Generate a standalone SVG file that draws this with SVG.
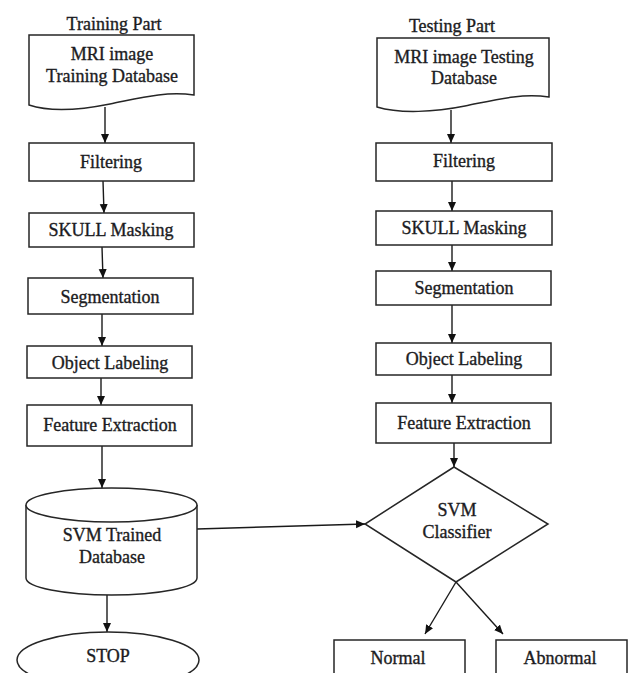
<svg xmlns="http://www.w3.org/2000/svg" width="628" height="673" viewBox="0 0 628 673">
<style>
.s{fill:#fff;stroke:#262626;stroke-width:1.5}
.t{font-family:"Liberation Serif","Times New Roman",serif;font-size:18px;fill:#1c1c22;stroke:#1c1c22;stroke-width:0.35;text-anchor:middle}
.c{fill:none;stroke:#1a1a1a;stroke-width:1.4}
</style>
<defs>
<marker id="a" markerUnits="userSpaceOnUse" markerWidth="10" markerHeight="10" refX="9" refY="4" orient="auto">
<path d="M0,0 L9,4 L0,8 Z" fill="#111"/>
</marker>
</defs>
<rect width="628" height="673" fill="#fff"/>
<text class="t" x="114" y="30">Training Part</text>
<text class="t" x="452" y="32">Testing Part</text>

<g id="connectors">
<path class="c" d="M105,107 V143" marker-end="url(#a)"/>
<path class="c" d="M103,181 L104,213" marker-end="url(#a)"/>
<path class="c" d="M102,247 L103,278" marker-end="url(#a)"/>
<path class="c" d="M102,314 V346" marker-end="url(#a)"/>
<path class="c" d="M101,378 V405" marker-end="url(#a)"/>
<path class="c" d="M102,446 V488" marker-end="url(#a)"/>
<path class="c" d="M107,595 V632" marker-end="url(#a)"/>
<path class="c" d="M197,529 L365,524" marker-end="url(#a)"/>
<path class="c" d="M451,110 V143" marker-end="url(#a)"/>
<path class="c" d="M452,181 V211" marker-end="url(#a)"/>
<path class="c" d="M452,245 V271" marker-end="url(#a)"/>
<path class="c" d="M452,305 V343" marker-end="url(#a)"/>
<path class="c" d="M452,375 V403" marker-end="url(#a)"/>
<path class="c" d="M454,443 V467" marker-end="url(#a)"/>
<path class="c" d="M456,582 L425,634" marker-end="url(#a)"/>
<path class="c" d="M456,582 L503,634" marker-end="url(#a)"/>
</g>

<g id="train-db">
<path class="s" d="M29,35 H194 V95 C165,91 140,98 110,104 C80,110 50,112 29,105 Z"/>
<text class="t" x="112" y="60">MRI image</text>
<text class="t" x="112" y="82">Training Database</text>
</g>
<g id="train-filter">
<rect class="s" x="29" y="143" width="165" height="38"/>
<text class="t" x="111" y="168">Filtering</text>
</g>
<g id="train-skull">
<rect class="s" x="29" y="213" width="165" height="34"/>
<text class="t" x="111" y="236">SKULL Masking</text>
</g>
<g id="train-seg">
<rect class="s" x="28" y="278" width="165" height="36"/>
<text class="t" x="110" y="303">Segmentation</text>
</g>
<g id="train-label">
<rect class="s" x="27" y="346" width="165" height="32"/>
<text class="t" x="110" y="369">Object Labeling</text>
</g>
<g id="train-feat">
<rect class="s" x="27" y="405" width="165" height="41"/>
<text class="t" x="110" y="431">Feature Extraction</text>
</g>
<g id="svm-db">
<path class="s" d="M26,505 V578 A85.5,17 0 0 0 197,578 V505"/>
<ellipse class="s" cx="111.5" cy="505" rx="85.5" ry="17"/>
<text class="t" x="112" y="541">SVM Trained</text>
<text class="t" x="112" y="563">Database</text>
</g>
<g id="stop">
<ellipse class="s" cx="108" cy="660" rx="91" ry="28"/>
<text class="t" x="108" y="662">STOP</text>
</g>

<g id="test-db">
<path class="s" d="M377,38 H549 V97 C520,93 495,100 465,106 C435,112 400,114 377,107 Z"/>
<text class="t" x="464" y="63">MRI image Testing</text>
<text class="t" x="464" y="84">Database</text>
</g>
<g id="test-filter">
<rect class="s" x="376" y="143" width="176" height="38"/>
<text class="t" x="464" y="167">Filtering</text>
</g>
<g id="test-skull">
<rect class="s" x="376" y="211" width="176" height="34"/>
<text class="t" x="464" y="234">SKULL Masking</text>
</g>
<g id="test-seg">
<rect class="s" x="376" y="271" width="175" height="34"/>
<text class="t" x="464" y="294">Segmentation</text>
</g>
<g id="test-label">
<rect class="s" x="376" y="343" width="175" height="32"/>
<text class="t" x="464" y="365">Object Labeling</text>
</g>
<g id="test-feat">
<rect class="s" x="376" y="403" width="175" height="40"/>
<text class="t" x="464" y="429">Feature Extraction</text>
</g>
<g id="svm-classifier">
<path class="s" d="M454,467 L548,524 L456,582 L365,524 Z"/>
<text class="t" x="457" y="516">SVM</text>
<text class="t" x="457" y="538">Classifier</text>
</g>
<g id="normal">
<rect class="s" x="334" y="640" width="131" height="50"/>
<text class="t" x="398" y="664">Normal</text>
</g>
<g id="abnormal">
<rect class="s" x="496" y="640" width="131" height="50"/>
<text class="t" x="560" y="664">Abnormal</text>
</g>
</svg>
